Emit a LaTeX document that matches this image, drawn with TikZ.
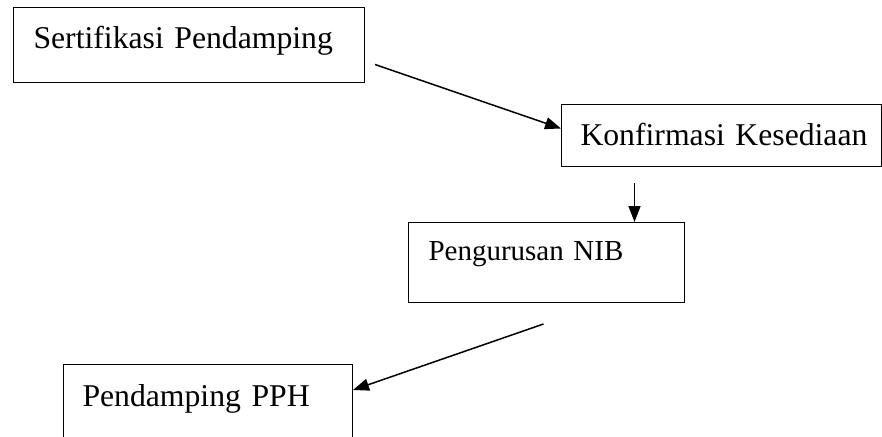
\documentclass[tikz,border=0pt]{standalone}
\usepackage{fontspec}
\setmainfont{Liberation Serif}
\usetikzlibrary{arrows.meta}
\begin{document}
\begin{tikzpicture}[x=1pt,y=1pt,
  boxnode/.style={draw=black, line width=1pt, anchor=north west, inner ysep=0pt, align=left,
    font=\fontsize{31.7}{38}\selectfont},
  conn/.style={line width=1.5pt, -{Triangle[length=16pt,width=12pt]}}]
\useasboundingbox (0,0) rectangle (882,-436);
\clip (0,0) rectangle (882,-436);
\node[boxnode, inner xsep=20pt, text width=311pt, text height=41pt, text depth=34pt] (b1) at (13,-7) {\makebox[0pt][l]{Sertifikasi Pendamping}};
\node[boxnode, inner xsep=19pt, text width=282pt, text height=41pt, text depth=21pt] (b2) at (561,-104) {\makebox[0pt][l]{Konfirmasi Kesediaan}};
\node[boxnode, inner xsep=20pt, text width=236pt, text height=38pt, text depth=42pt, font=\fontsize{29}{35}\selectfont] (b3) at (408,-222) {\makebox[0pt][l]{Pengurusan NIB}};
\node[boxnode, inner xsep=19pt, text width=251pt, text height=42pt, text depth=60pt] (b4) at (63,-364) {\makebox[0pt][l]{Pendamping PPH}};
\coordinate (s1) at ([xshift=10pt,yshift=-19.5pt]b1.east);
\coordinate (s2) at ([xshift=-87pt,yshift=-16pt]b2.south);
\coordinate (s3) at ([xshift=-3pt,yshift=-21pt]b3.south);
\draw[conn] (s1) -- ([yshift=7pt]b2.west);
\draw[conn] (s2) -- ([xshift=88pt]b3.north);
\draw[conn] (s3) -- ([yshift=-26pt]b4.north east);
\end{tikzpicture}
\end{document}
